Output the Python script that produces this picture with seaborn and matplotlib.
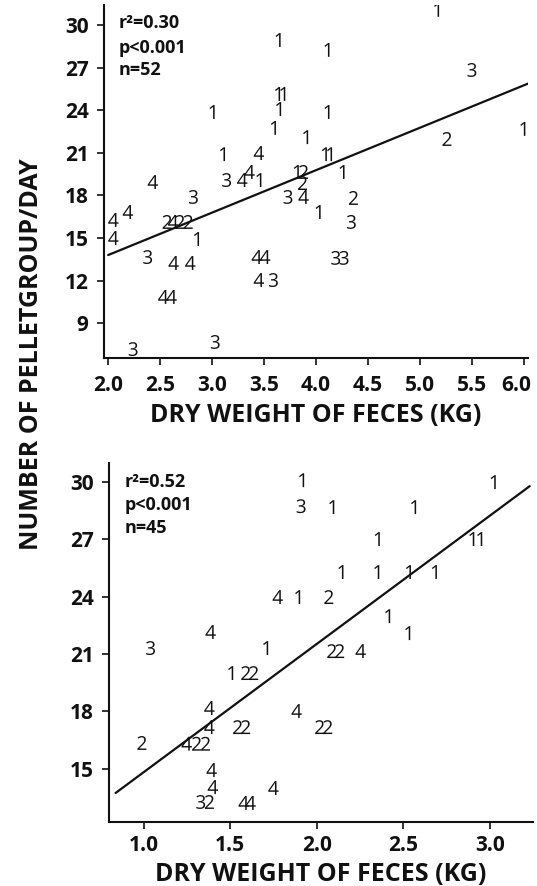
import pandas as pd
import numpy as np
import matplotlib
matplotlib.use("Agg")
import matplotlib.pyplot as plt
import matplotlib.transforms as mtransforms
import seaborn as sns

# upper panel: points, label = group digit
top_x = [3.635, 4.105, 3.63, 3.68, 3.64, 3.00, 4.105, 3.59, 3.90, 3.10, 3.45, 4.08, 4.13,
         2.43, 3.14, 3.29, 3.36, 3.45, 3.81, 3.88, 3.87, 4.25, 5.16, 5.50, 5.99, 5.26,
         3.73, 3.88, 4.36, 2.82, 2.19, 2.05, 2.567, 2.625, 2.69, 2.77, 2.85, 2.05, 4.02,
         4.34, 2.38, 2.63, 2.79, 3.43, 3.51, 4.19, 4.27, 3.45, 3.59, 2.53, 2.61, 2.24, 3.03]
top_y = [28.94, 28.24, 25.14, 25.14, 24.08, 23.87, 23.87, 22.75, 22.1, 20.9, 20.98, 20.9, 20.9,
         18.94, 19.08, 19.08, 19.65, 19.08, 19.65, 19.65, 18.87, 19.65, 31.06, 26.83, 22.68, 21.97,
         17.89, 17.89, 17.82, 17.89, 16.83, 16.27, 16.13, 16.13, 16.13, 16.13, 14.93, 15.0, 16.83,
         16.13, 13.66, 13.24, 13.24, 13.66, 13.66, 13.6, 13.6, 12.04, 12.04, 10.85, 10.85, 7.18, 7.68]
top_g = ['1', '1', '1', '1', '1', '1', '1', '1', '1', '1', '4', '1', '1',
         '4', '3', '4', '4', '1', '1', '2', '2', '1', '1', '3', '1', '2',
         '3', '4', '2', '3', '4', '4', '2', '4', '2', '2', '1', '4', '1',
         '3', '3', '4', '4', '4', '4', '3', '3', '4', '3', '4', '4', '3', '3']
top_fit_x = [2.0, 6.05]
top_fit_y = [13.8, 25.9]
top_stats = ["r²=0.30", "p<0.001", "n=52"]

# lower panel
bot_x = [1.913, 1.91, 1.775, 1.89, 1.387, 1.04, 1.705, 2.087, 2.56, 3.02, 2.35, 2.896, 2.942,
         2.14, 2.347, 2.53, 2.68, 2.07, 2.41, 2.526, 2.087, 2.133, 2.254, 1.884, 2.017, 2.064,
         1.503, 1.59, 1.636, 1.38, 1.38, 1.543, 1.59, 0.99, 1.249, 1.306, 1.358, 1.393, 1.40,
         1.33, 1.38, 1.578, 1.618, 1.75]
bot_y = [30.1, 28.74, 23.98, 23.98, 22.15, 21.31, 21.31, 28.69, 28.69, 30.0, 27.02, 27.02, 27.02,
         25.29, 25.29, 25.29, 25.29, 23.98, 22.98, 22.09, 21.15, 21.15, 21.15, 18.01, 17.17, 17.17,
         20.0, 20.0, 20.0, 18.17, 17.17, 17.17, 17.17, 16.34, 16.3, 16.3, 16.3, 14.92, 14.03,
         13.25, 13.25, 13.2, 13.2, 13.98]
bot_g = ['1', '3', '4', '1', '4', '3', '1', '1', '1', '1', '1', '1', '1',
         '1', '1', '1', '1', '2', '1', '1', '2', '2', '4', '4', '2', '2',
         '1', '2', '2', '4', '4', '2', '2', '2', '4', '2', '2', '4', '4',
         '3', '2', '4', '4', '4']
bot_fit_x = [0.838, 3.231]
bot_fit_y = [13.72, 29.79]
bot_stats = ["r²=0.52", "p<0.001", "n=45"]

top_xticks = [2.0, 2.5, 3.0, 3.5, 4.0, 4.5, 5.0, 5.5, 6.0]
bot_xticks = [1.0, 1.5, 2.0, 2.5, 3.0]
top_yticks = [9, 12, 15, 18, 21, 24, 27, 30]
bot_yticks = [15, 18, 21, 24, 27, 30]

sns.set_style("ticks")
plt.rcParams['font.family'] = ['Open Sans', 'DejaVu Sans']
plt.rcParams['mathtext.fontset'] = 'custom'
plt.rcParams['mathtext.rm'] = 'Open Sans'

ink = "#111111"
digit_markers = {g: f"${g}$" for g in ["1", "2", "3", "4"]}

fig = plt.figure(figsize=(5.37, 8.86), dpi=100)
ax1 = fig.add_axes([0.1937, 0.5959, 0.7896, 0.3984])
ax2 = fig.add_axes([0.2030, 0.0722, 0.7896, 0.4052])


def draw_panel(ax, xs, ys, gs, fx, fy, stats, xlim, ylim, xticks, yticks, stat_pos, xpad):
    df = pd.DataFrame({"weight": xs, "pellets": ys, "group": gs})
    sns.scatterplot(data=df, x="weight", y="pellets", style="group", markers=digit_markers,
                    color=ink, s=100, linewidth=0, legend=False, ax=ax)
    sns.lineplot(x=fx, y=fy, color=ink, linewidth=1.6, ax=ax)
    ax.set_xlim(*xlim)
    ax.set_ylim(*ylim)
    ax.set_xticks(xticks)
    ax.set_xticklabels([f"{t:.1f}" for t in xticks])
    ax.set_yticks(yticks)
    sns.despine(ax=ax)
    for s in ["left", "bottom"]:
        ax.spines[s].set_linewidth(1.5)
        ax.spines[s].set_color(ink)
    ax.tick_params(axis="y", length=5, width=1.2, pad=6, labelsize=15, colors=ink)
    ax.tick_params(axis="x", length=5, width=1.2, pad=xpad, labelsize=15, colors=ink)
    for lab in ax.get_xticklabels() + ax.get_yticklabels():
        lab.set_fontweight("bold")
    ax.set_xlabel("DRY WEIGHT OF FECES (KG)", fontsize=18, fontweight="bold", color=ink,
                  labelpad=5)
    ax.set_ylabel("")
    for txt, (px, py) in zip(stats, stat_pos):
        ax.text(px, py, txt, transform=ax.transAxes, fontsize=13, fontweight="bold",
                color=ink, ha="left", va="center")


draw_panel(ax1, top_x, top_y, top_g, top_fit_x, top_fit_y, top_stats,
           (1.96, 6.04), (6.55, 31.4), top_xticks, top_yticks,
           [(0.035, 0.949), (0.035, 0.878), (0.035, 0.816)], 7)
draw_panel(ax2, bot_x, bot_y, bot_g, bot_fit_x, bot_fit_y, bot_stats,
           (0.80, 3.25), (12.2, 31.0), bot_xticks, bot_yticks,
           [(0.038, 0.947), (0.038, 0.883), (0.038, 0.819)], 4)

# last tick label of the upper panel sits a bit left of its tick, as in the print
last = ax1.get_xticklabels()[-1]
last.set_transform(last.get_transform() + mtransforms.ScaledTranslation(-8 / 100, 0, fig.dpi_scale_trans))

fig.text(0.058, 0.60, "NUMBER OF PELLETGROUP/DAY", rotation=90, ha="center", va="center",
         fontsize=18, fontweight="bold", color=ink)

fig.savefig("out.png", dpi=100)
